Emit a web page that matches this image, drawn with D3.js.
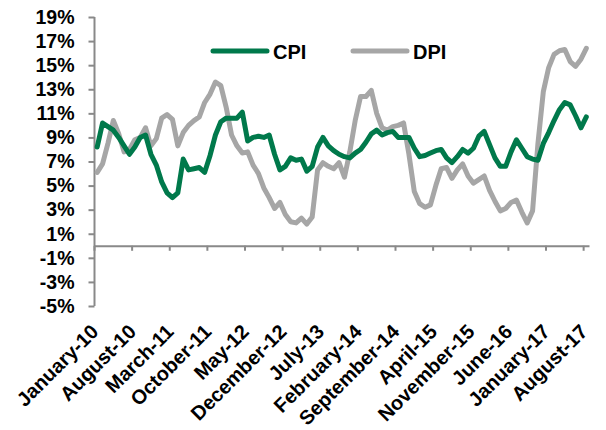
<!DOCTYPE html>
<html>
<head>
<meta charset="utf-8">
<script src="https://cdn.jsdelivr.net/npm/d3@7"></script>
<style>
  html, body { margin: 0; padding: 0; background: #fff; }
  svg { display: block; font-family: "Liberation Sans", Arial, sans-serif; font-weight: bold; }
</style>
</head>
<body>
<svg id="chart" width="606" height="430"></svg>
<script>
// Monthly inflation, January 2010 – August 2017 (percent, year over year)
const startMonth = new Date(2010, 0, 1);
const endMonth = new Date(2017, 8, 1);

const cpi = [
  8.2, 10.2, 9.9, 9.6, 9.0, 8.3, 7.6, 8.2, 9.0, 9.2, 7.6, 6.7,
  5.3, 4.4, 4.0, 4.4, 7.2, 6.3, 6.4, 6.5, 6.1, 7.5, 9.2, 10.3,
  10.6, 10.6, 10.6, 11.1, 8.7, 9.0, 9.1, 9.0, 9.2, 7.6, 6.3, 6.6,
  7.3, 7.1, 7.2, 6.2, 6.6, 8.2, 9.0, 8.3, 7.9, 7.6, 7.4, 7.3,
  7.7, 8.0, 8.6, 9.3, 9.6, 9.2, 9.4, 9.5, 9.0, 9.0, 9.0, 8.1,
  7.4, 7.5, 7.7, 7.9, 8.0, 7.3, 6.9, 7.4, 8.0, 7.7, 8.1, 9.1,
  9.5, 8.4, 7.3, 6.6, 6.6, 7.8, 8.8, 8.1, 7.4, 7.2, 7.1, 8.5,
  9.4, 10.4, 11.3, 11.9, 11.7, 10.8, 9.8, 10.7
];

const dpi = [
  6.1, 6.8, 8.5, 10.4, 9.3, 7.8, 8.0, 8.8, 9.0, 9.8, 8.3, 8.9,
  10.6, 10.9, 10.5, 8.3, 9.4, 10.0, 10.4, 10.7, 11.9, 12.6, 13.6, 13.3,
  11.5, 9.2, 8.3, 7.7, 7.8, 6.7, 6.0, 4.8, 4.0, 3.1, 3.6, 2.6,
  2.0, 1.9, 2.3, 1.8, 2.4, 6.3, 6.9, 6.6, 6.4, 6.9, 5.7, 7.8,
  10.4, 12.4, 12.4, 12.9, 11.0, 9.8, 9.6, 9.9, 10.0, 10.2, 7.6, 4.5,
  3.5, 3.2, 3.4, 5.0, 6.4, 6.5, 5.6, 6.3, 6.8, 5.8, 5.2, 5.5,
  5.8, 4.6, 3.7, 2.9, 3.1, 3.6, 3.8, 2.8, 1.9, 2.9, 8.5, 12.8,
  14.8, 15.9, 16.2, 16.3, 15.3, 14.9, 15.5, 16.4
];

const tickLabels = [
  "January-10", "August-10", "March-11", "October-11", "May-12",
  "December-12", "July-13", "February-14", "September-14", "April-15",
  "November-15", "June-16", "January-17", "August-17"
];

const yTicks = [-5, -3, -1, 1, 3, 5, 7, 9, 11, 13, 15, 17, 19];

const seriesNames = ["CPI", "DPI"];
const seriesColors = ["#00794B", "#A6A6A6"];

// Category axis: one band per month
const fmt = d3.timeFormat("%B-%y");
const categories = d3.timeMonth.range(startMonth, endMonth).map(fmt);

const svg = d3.select("#chart");
const plotLeft = 94.5, plotRight = 589, plotTop = 17, plotBottom = 306;

const x = d3.scaleBand().domain(categories).range([plotLeft, plotRight]).padding(0);
const y = d3.scaleLinear().domain([-5, 19]).range([plotBottom, plotTop]);
const cx = c => x(c) + x.bandwidth() / 2;

const axisColor = "#898989";

// Vertical value axis
const yAxis = svg.append("g")
  .attr("transform", `translate(${plotLeft},0)`)
  .call(d3.axisLeft(y).tickValues(yTicks).tickFormat(d => d + "%").tickSize(6).tickPadding(14));
yAxis.select(".domain").attr("stroke", axisColor).attr("stroke-width", 2).attr("d", `M0,${plotTop}V${plotBottom}`);
yAxis.selectAll(".tick line").attr("stroke", axisColor).attr("stroke-width", 2);
yAxis.selectAll(".tick text")
  .attr("fill", "#000")
  .style("font-size", "19.5px")
  .style("font-weight", "bold")
  .style("font-family", "'Liberation Sans', Arial, sans-serif");

// Horizontal category axis crossing at 0%
const tickCats = categories.filter(c => tickLabels.includes(c));
const xAxis = svg.append("g")
  .attr("transform", `translate(0,${y(0)})`)
  .call(d3.axisBottom(x).tickValues(tickCats).tickFormat("").tickSize(5).tickSizeOuter(0));
xAxis.select(".domain").attr("stroke", axisColor).attr("stroke-width", 2);
xAxis.selectAll(".tick")
  .attr("transform", d => `translate(${x(d)},0)`);
xAxis.selectAll(".tick line").attr("stroke", axisColor).attr("stroke-width", 2);

// Rotated month labels along the bottom
svg.append("g").selectAll("text")
  .data(tickCats)
  .join("text")
  .attr("transform", d => `translate(${cx(d) + 2.5},333) rotate(-45)`)
  .attr("text-anchor", "end")
  .style("font-size", "20px")
  .attr("fill", "#000")
  .text(d => d);

// Series lines
const line = d3.line()
  .x((d, i) => cx(categories[i]))
  .y(d => y(d));

const seriesData = [cpi, dpi];
// Draw DPI first so CPI sits on top
[1, 0].forEach(k => {
  svg.append("path")
    .datum(seriesData[k])
    .attr("fill", "none")
    .attr("stroke", seriesColors[k])
    .attr("stroke-width", 5)
    .attr("stroke-linejoin", "round")
    .attr("stroke-linecap", "round")
    .attr("d", line);
});

// Legend
const legendX = [213, 353];
const legend = svg.append("g");
seriesNames.forEach((name, k) => {
  legend.append("line")
    .attr("x1", legendX[k]).attr("x2", legendX[k] + 54)
    .attr("y1", 51).attr("y2", 51)
    .attr("stroke", seriesColors[k])
    .attr("stroke-width", 5)
    .attr("stroke-linecap", "round");
  legend.append("text")
    .attr("x", legendX[k] + 60)
    .attr("y", 58.5)
    .style("font-size", "20px")
    .attr("fill", "#000")
    .text(name);
});
</script>
</body>
</html>
